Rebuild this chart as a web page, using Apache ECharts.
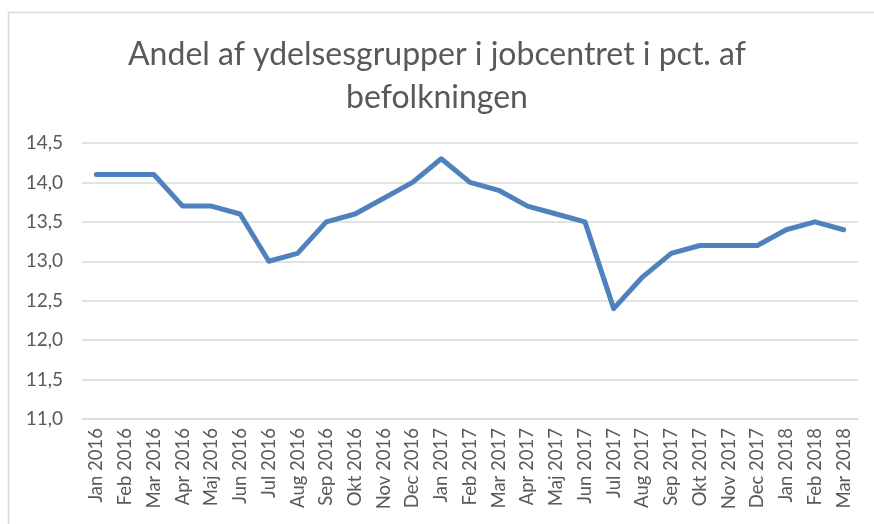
<!DOCTYPE html>
<html>
<head>
<meta charset="utf-8">
<script src="https://cdn.jsdelivr.net/npm/echarts@6/dist/echarts.min.js"></script>
<style>
	html,body{margin:0;padding:0;background:#fff;}
	#chart{width:874px;height:524px;}
</style>
</head>
<body>
<div id="chart"></div>
<script>
	// måneder jan 2016 - mar 2018
	var months = ['Jan 2016','Feb 2016','Mar 2016','Apr 2016','Maj 2016','Jun 2016','Jul 2016','Aug 2016','Sep 2016','Okt 2016','Nov 2016','Dec 2016',
		'Jan 2017','Feb 2017','Mar 2017','Apr 2017','Maj 2017','Jun 2017','Jul 2017','Aug 2017','Sep 2017','Okt 2017','Nov 2017','Dec 2017',
		'Jan 2018','Feb 2018','Mar 2018']
	var andel = [14.1,14.1,14.1,13.7,13.7,13.6,13.0,13.1,13.5,13.6,13.8,14.0,
		14.3,14.0,13.9,13.7,13.6,13.5,12.4,12.8,13.1,13.2,13.2,13.2,
		13.4,13.5,13.4]
	var titleText = 'Andel af ydelsesgrupper i jobcentret i pct. af\nbefolkningen'

	var font = 'Lato, "Open Sans", sans-serif'
	var chart = echarts.init(document.getElementById('chart'))
	chart.setOption({
		animation:false,
		graphic:[
			{
				type:'rect',
				shape:{x:8.5,y:12.5,width:900,height:600},
				style:{fill:'none',stroke:'#d9d9d9',lineWidth:1.5},
				silent:true
			}
		],
		title:{
			text:titleText,
			left:'center',
			top:28,
			textStyle:{
				fontFamily:font,
				fontSize:32,
				fontWeight:'normal',
				color:'#595959',
				lineHeight:43
			}
		},
		grid:{left:82,right:16,top:143,bottom:105},
		xAxis:{
			type:'category',
			data:months,
			boundaryGap:true,
			axisLine:{show:true,lineStyle:{color:'#d9d9d9',width:1.5}},
			axisTick:{show:false},
			axisLabel:{
				rotate:90,
				interval:0,
				margin:9,
				fontFamily:font,
				fontSize:18.5,
				color:'#595959'
			}
		},
		yAxis:{
			type:'value',
			min:11,
			max:14.5,
			interval:0.5,
			axisLine:{show:false},
			axisTick:{show:false},
			splitLine:{lineStyle:{color:'#d9d9d9',width:1.5}},
			axisLabel:{
				margin:19,
				fontFamily:font,
				fontSize:19,
				color:'#595959',
				formatter:function(v){ return v.toFixed(1).replace('.',',') }
			}
		},
		series:[
			{
				type:'line',
				data:andel,
				symbol:'none',
				lineStyle:{color:'#4f81bd',width:5,cap:'round',join:'round'}
			}
		]
	})
</script>
</body>
</html>
